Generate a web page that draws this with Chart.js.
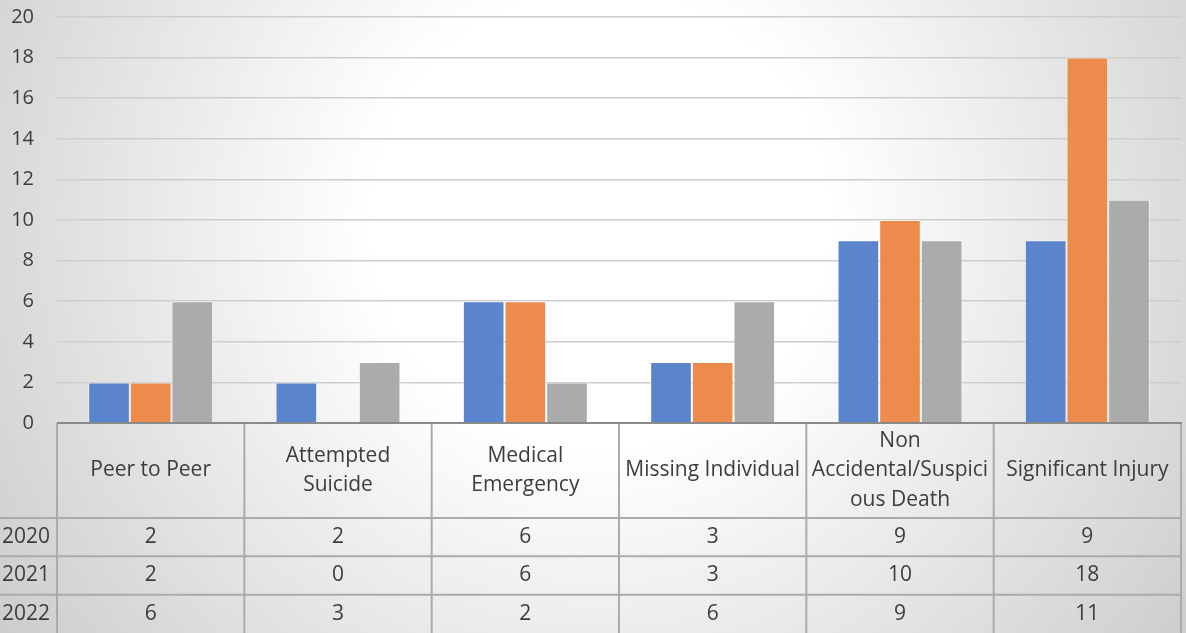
<!DOCTYPE html>
<html>
<head>
<meta charset="utf-8">
<script src="https://cdn.jsdelivr.net/npm/chart.js@4"></script>
<style>
  html, body { margin: 0; padding: 0; background: #fff; }
  #wrap { width: 1186px; height: 633px; position: relative; }
</style>
</head>
<body>
<div id="wrap"><canvas id="chart"></canvas></div>
<script>
// categories, each one split in the lines shown in the table header
var categories = [
    ['Peer to Peer']
  , ['Attempted', 'Suicide']
  , ['Medical', 'Emergency']
  , ['Missing Individual']
  , ['Non', 'Accidental/Suspici', 'ous Death']
  , ['Significant Injury']
]
var years = ['2020', '2021', '2022']
var values2020 = [2, 2, 6, 3, 9, 9]
var values2021 = [2, 0, 6, 3, 10, 18]
var values2022 = [6, 3, 2, 6, 9, 11]
var yTicks = [0, 2, 4, 6, 8, 10, 12, 14, 16, 18, 20]

var seriesColors = ['#5a84cc', '#ec8b4b', '#ababab']
var fontFamily = '"Open Sans", sans-serif'
var textColor = '#3d3d3d'
var tableLine = '#ababab'

// radial grey background like the office chart style
var background = {
  id: 'background',
  beforeDraw: function(chart) {
    var ctx = chart.ctx
    var w = chart.width, h = chart.height
    var g = ctx.createRadialGradient(600, 220, 0, 600, 220, 880)
    g.addColorStop(0, '#ffffff')
    g.addColorStop(0.26, '#ffffff')
    g.addColorStop(1, '#bdbdbd')
    ctx.save()
    ctx.fillStyle = g
    ctx.fillRect(0, 0, w, h)
    ctx.restore()
  }
}

// data table drawn under the x axis, columns taken from the category scale
var dataTable = {
  id: 'dataTable',
  afterDraw: function(chart) {
    var ctx = chart.ctx
    var x = chart.scales.x
    var area = chart.chartArea
    var top = area.bottom
    var bottom = chart.height
    var headerH = 95
    var rowH = (bottom - top - headerH) / years.length
    var left = area.left, right = area.right
    var step = (right - left) / categories.length

    ctx.save()
    ctx.strokeStyle = tableLine
    ctx.lineWidth = 2

    // horizontal lines
    ctx.beginPath()
    for (var r = 0; r < years.length; r++) {
      var yy = top + headerH + r * rowH
      ctx.moveTo(0, yy); ctx.lineTo(right, yy)
    }
    ctx.stroke()

    // vertical lines
    ctx.beginPath()
    for (var c = 0; c <= categories.length; c++) {
      var xx = left + c * step
      ctx.moveTo(xx, top); ctx.lineTo(xx, bottom)
    }
    ctx.stroke()

    // axis line on top of the table
    ctx.strokeStyle = '#8a8a8a'
    ctx.beginPath()
    ctx.moveTo(left, top); ctx.lineTo(right + 1, top)
    ctx.stroke()

    ctx.fillStyle = textColor
    ctx.font = '21px ' + fontFamily
    ctx.textBaseline = 'middle'
    ctx.textAlign = 'center'

    // header
    var lineH = 29.5
    categories.forEach(function(lines, i) {
      var cx = x.getPixelForValue(i)
      var cy = top + headerH / 2 - (lines.length - 1) * lineH / 2
      lines.forEach(function(t, k) { ctx.fillText(t, cx, cy + k * lineH) })
    })

    // rows
    var rows = [values2020, values2021, values2022]
    rows.forEach(function(vals, r) {
      var cy = top + headerH + r * rowH + rowH / 2
      ctx.textAlign = 'left'
      ctx.fillText(years[r], 2, cy)
      ctx.textAlign = 'center'
      vals.forEach(function(v, i) { ctx.fillText(String(v), x.getPixelForValue(i), cy) })
    })
    ctx.restore()
  }
}

function dataset(label, data, color) {
  return {
      label: label
    , data: data
    , backgroundColor: color
    , borderColor: 'rgba(255,255,255,0.55)'
    , borderWidth: 1
    , categoryPercentage: 0.667
    , barPercentage: 1
  }
}

new Chart(document.getElementById('chart'), {
  type: 'bar',
  data: {
    labels: categories.map(function(c) { return c.join(' ') }),
    datasets: [
      dataset(years[0], values2020, seriesColors[0]),
      dataset(years[1], values2021, seriesColors[1]),
      dataset(years[2], values2022, seriesColors[2])
    ]
  },
  options: {
    responsive: true,
    maintainAspectRatio: false,
    animation: false,
    layout: { padding: { top: 0, right: 5, left: 0, bottom: 0 } },
    plugins: {
      legend: { display: false },
      tooltip: { enabled: false }
    },
    scales: {
      x: {
        grid: { display: false },
        border: { display: false },
        ticks: { display: false },
        afterFit: function(scale) { scale.height = 210 }
      },
      y: {
        min: 0,
        max: 20,
        afterBuildTicks: function(scale) {
          scale.ticks = yTicks.map(function(v) { return { value: v } })
        },
        grid: { color: '#cdcdcd', lineWidth: 1.5, drawTicks: false },
        border: { display: false },
        ticks: {
          padding: 23,
          color: textColor,
          font: { family: fontFamily, size: 20 }
        },
        afterFit: function(scale) {
          scale.width = 57
          scale.paddingTop = 17
          scale.paddingBottom = 0
        }
      }
    }
  },
  plugins: [background, dataTable]
})
</script>
</body>
</html>
